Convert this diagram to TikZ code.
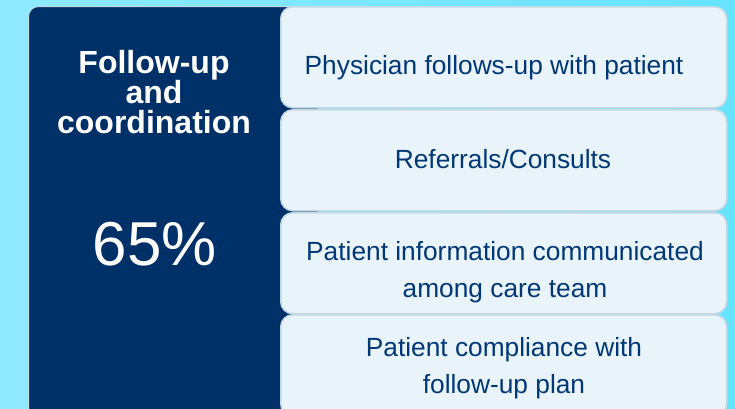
\documentclass[tikz,border=0pt]{standalone}
\usepackage{fontspec}
\setmainfont{Liberation Sans}
\definecolor{navy}{RGB}{0,48,104}
\definecolor{cellfill}{RGB}{232,243,250}
\definecolor{celledge}{RGB}{196,216,228}
\definecolor{inktext}{RGB}{0,56,118}
\definecolor{skyleft}{RGB}{143,233,253}
\definecolor{skyright}{RGB}{102,227,253}

\begin{document}
\begin{tikzpicture}[x=1pt, y=-1pt, line join=round,
  cell/.style={draw=celledge, fill=cellfill, line width=1.5pt,
    rounded corners=12pt, minimum width=446pt, minimum height=101pt,
    anchor=north west, inner sep=0pt},
  celltext/.style={text=inktext, font=\fontsize{26.3}{36.5}\selectfont,
    align=center, anchor=base}]

  % Background
  \useasboundingbox (0,0) rectangle (735,408);
  \shade [left color=skyleft, right color=skyright] (0,0) rectangle (735,408);

  % Dark panel
  \node [draw=celledge, fill=navy, line width=1pt, rounded corners=10pt,
    minimum width=290pt, minimum height=430pt, anchor=north west,
    inner sep=0pt] (panel) at (28,6) {};

  % base anchor sits on the last line
  \node [text=white, font=\bfseries\fontsize{32}{30}\selectfont,
    align=center, anchor=base] (title) at (154,133)
    {Follow-up\\and\\coordination};

  \node [text=white, font=\fontsize{62}{62}\selectfont, anchor=base]
    (share) at (155,265) {65\%};

  % Draw cells
  \foreach \i/\ytop in {1/6, 2/109, 3/212, 4/314}{
    \node [cell] (c\i) at (280,\ytop) {};
  }

  % Cell texts
  \node [celltext] (t1) at (494,74) {Physician follows-up with patient};
  \node [celltext] (t2) at (503,168) {Referrals/Consults};
  \node [celltext] (t3) at (505,297) {Patient information communicated\\among care team};
  \node [celltext] (t4) at (504,393) {Patient compliance with\\follow-up plan};

\end{tikzpicture}
\end{document}
